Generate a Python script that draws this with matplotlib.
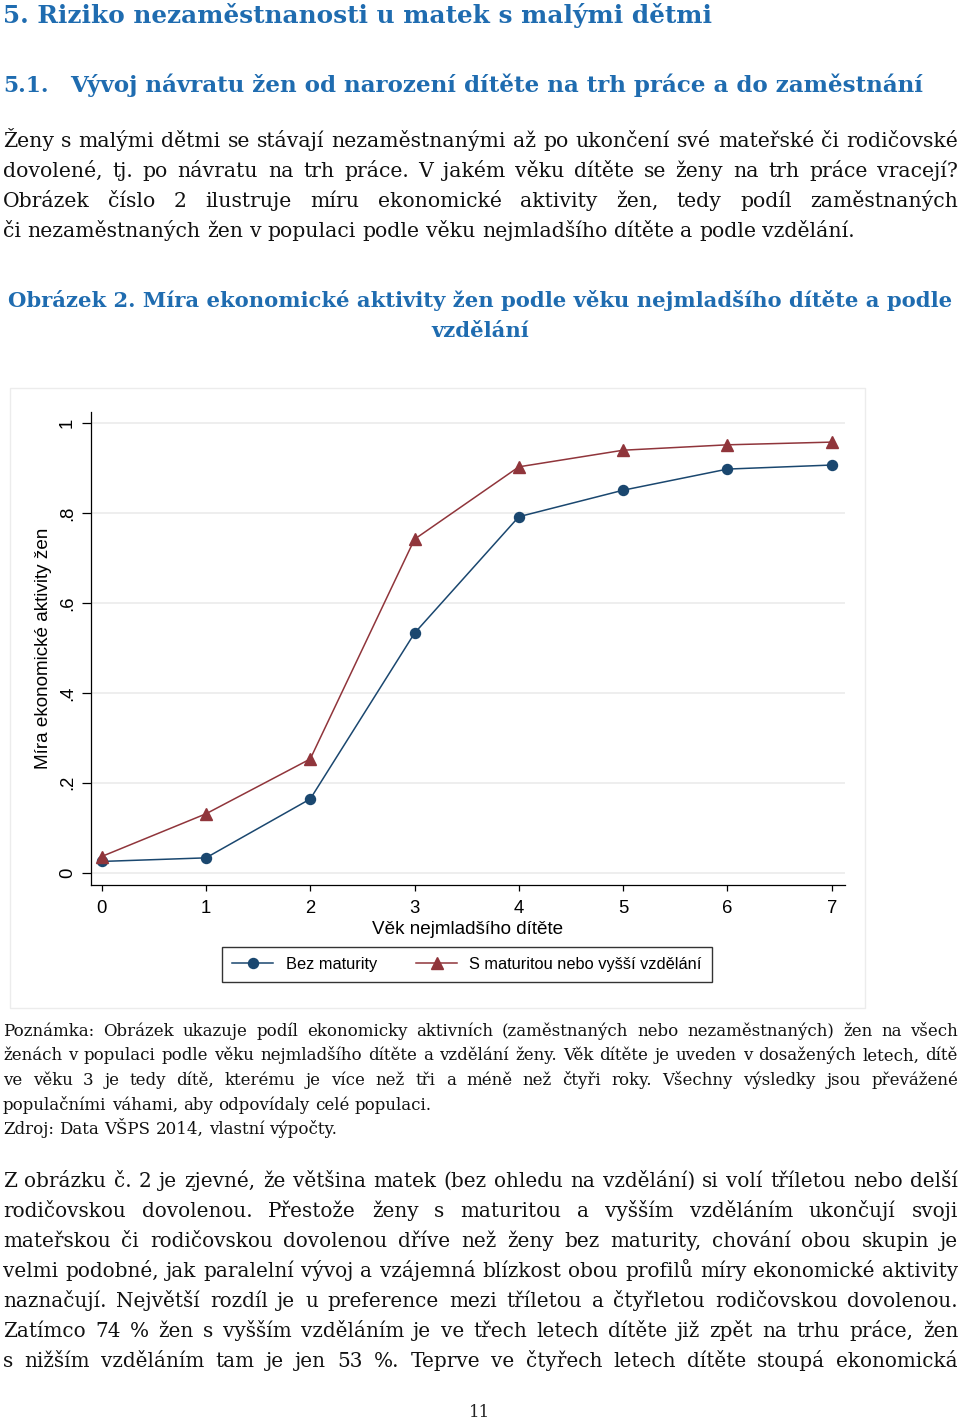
import matplotlib
matplotlib.use("Agg")
import matplotlib.pyplot as plt
from matplotlib.patches import Rectangle

W, H = 960, 1421
SERIF = "DejaVu Serif"
SANS = "Liberation Sans"
BLUE_HEAD = "#1f6cb0"
NAVY = "#1a476f"
MAROON = "#90353b"

# chart data
ages = [0, 1, 2, 3, 4, 5, 6, 7]
bez_maturity = [0.025, 0.033, 0.164, 0.533, 0.792, 0.851, 0.898, 0.907]
s_maturitou = [0.036, 0.131, 0.253, 0.742, 0.903, 0.940, 0.952, 0.958]
y_ticks = [0, 0.2, 0.4, 0.6, 0.8, 1.0]
y_ticklabels = ["0", ".2", ".4", ".6", ".8", "1"]
series_labels = ["Bez maturity", "S maturitou nebo vyšší vzdělání"]

heading1 = "5. Riziko nezaměstnanosti u matek s malými dětmi"
heading2_num = "5.1."
heading2 = "Vývoj návratu žen od narození dítěte na trh práce a do zaměstnání"

para1 = [
    "Ženy s malými dětmi se stávají nezaměstnanými až po ukončení své mateřské či rodičovské",
    "dovolené, tj. po návratu na trh práce. V jakém věku dítěte se ženy na trh práce vracejí?",
    "Obrázek číslo 2 ilustruje míru ekonomické aktivity žen, tedy podíl zaměstnaných",
    "či nezaměstnaných žen v populaci podle věku nejmladšího dítěte a podle vzdělání.",
]
caption = [
    "Obrázek 2. Míra ekonomické aktivity žen podle věku nejmladšího dítěte a podle",
    "vzdělání",
]
note = [
    "Poznámka: Obrázek ukazuje podíl ekonomicky aktivních (zaměstnaných nebo nezaměstnaných) žen na všech",
    "ženách v populaci podle věku nejmladšího dítěte a vzdělání ženy. Věk dítěte je uveden v dosažených letech, dítě",
    "ve věku 3 je tedy dítě, kterému je více než tři a méně než čtyři roky. Všechny výsledky jsou převážené",
    "populačními váhami, aby odpovídaly celé populaci.",
    "Zdroj: Data VŠPS 2014, vlastní výpočty.",
]
para2 = [
    "Z obrázku č. 2 je zjevné, že většina matek (bez ohledu na vzdělání) si volí tříletou nebo delší",
    "rodičovskou dovolenou. Přestože ženy s maturitou a vyšším vzděláním ukončují svoji",
    "mateřskou či rodičovskou dovolenou dříve než ženy bez maturity, chování obou skupin je",
    "velmi podobné, jak paralelní vývoj a vzájemná blízkost obou profilů míry ekonomické aktivity",
    "naznačují. Největší rozdíl je u preference mezi tříletou a čtyřletou rodičovskou dovolenou.",
    "Zatímco 74 % žen s vyšším vzděláním je ve třech letech dítěte již zpět na trhu práce, žen",
    "s nižším vzděláním tam je jen 53 %. Teprve ve čtyřech letech dítěte stoupá ekonomická",
]

fig = plt.figure(figsize=(W / 100, H / 100), dpi=100)
renderer = fig.canvas.get_renderer()

bg = fig.add_axes([0, 0, 1, 1])
bg.set_xlim(0, W)
bg.set_ylim(H, 0)
bg.axis("off")


def width_of(t):
    return t.get_window_extent(renderer).width


def measure(s, size, **kw):
    t = bg.text(0, 0, s, fontsize=size, **kw)
    w = width_of(t)
    t.remove()
    return w


def fit_size(lines, x0, x1, size, **kw):
    for s in lines:
        w = measure(s, size, **kw)
        if w > (x1 - x0) * 0.99:
            size = size * (x1 - x0) * 0.99 / w
    return size


def put_line(s, y, x0, x1, size, justify=True, color="#111111", **kw):
    words = s.split()
    ts = [bg.text(0, y, w, fontsize=size, va="baseline", ha="left",
                  color=color, **kw) for w in words]
    ws = [width_of(t) for t in ts]
    if justify and len(words) > 1:
        gap = (x1 - x0 - sum(ws)) / (len(words) - 1)
    else:
        gap = measure("x x", size, **kw) - measure("xx", size, **kw)
    x = x0
    for t, w in zip(ts, ws):
        t.set_x(x)
        x += w + gap


def paragraph(lines, baselines, size, last_left, x0=3, x1=958, **kw):
    size = fit_size([l for i, l in enumerate(lines) if i not in last_left],
                    x0, x1, size, **kw)
    for i, (s, y) in enumerate(zip(lines, baselines)):
        put_line(s, y, x0, x1, size, justify=i not in last_left, **kw)


def fitted(s, x0, x1, base=17.5, **kw):
    return base * (x1 - x0) / measure(s, base, **kw)


# headings
h1 = fitted(heading1, 3, 710, family=SERIF, weight="bold")
h2 = fitted(heading2, 70, 925, family=SERIF, weight="bold")
bg.text(3, 23, heading1, fontsize=h1, family=SERIF, weight="bold",
        color=BLUE_HEAD, va="baseline")
bg.text(3, 92, heading2_num, fontsize=h2 * 0.95, family=SERIF, weight="bold",
        color=BLUE_HEAD, va="baseline")
bg.text(70, 92, heading2, fontsize=h2, family=SERIF, weight="bold",
        color=BLUE_HEAD, va="baseline")

# paragraph 1
paragraph(para1, [147, 177, 207, 237], 15.5, last_left={3}, family=SERIF)

# caption
cs = fitted(caption[0], 8, 952, base=15, family=SERIF, weight="bold")
bg.text(8, 307, caption[0], fontsize=cs, family=SERIF, weight="bold",
        color=BLUE_HEAD, va="baseline")
bg.text(480, 337, caption[1], fontsize=cs, family=SERIF, weight="bold",
        color=BLUE_HEAD, va="baseline", ha="center")

# chart frame
bg.add_patch(Rectangle((10, 388), 855, 620, fill=False, edgecolor="#ececec", lw=1))

# chart
def frac(x0, y0, x1, y1):
    return [x0 / W, 1 - y1 / H, (x1 - x0) / W, (y1 - y0) / H]

ax = fig.add_axes(frac(90.7, 412, 845, 885))
ax.set_facecolor("white")
ax.plot(ages, bez_maturity, color=NAVY, lw=1.1, marker="o", ms=7.2,
        label=series_labels[0])
ax.plot(ages, s_maturitou, color=MAROON, lw=1.1, marker="^", ms=8.2,
        label=series_labels[1])
ax.set_xlim(-0.105, 7.127)
ax.set_ylim(-0.0274, 1.025)
ax.set_yticks(y_ticks)
ax.set_yticklabels(y_ticklabels)
ax.set_xticks(ages)
ax.grid(axis="y", color="#eaeaea", lw=1.1)
ax.set_axisbelow(True)
for sp in ["top", "right"]:
    ax.spines[sp].set_visible(False)
for sp in ["left", "bottom"]:
    ax.spines[sp].set_color("black")
    ax.spines[sp].set_linewidth(0.9)
ax.tick_params(axis="y", length=6.5, width=0.9, pad=4, labelsize=13.3,
               labelrotation=90)
ax.tick_params(axis="x", length=4.5, width=0.9, pad=6, labelsize=13.3)
for lab in ax.get_yticklabels() + ax.get_xticklabels():
    lab.set_family(SANS)
for lab in ax.get_yticklabels():
    lab.set_va("center")
ax.set_xlabel("Věk nejmladšího dítěte", family=SANS, fontsize=13.6, labelpad=3)
ax.set_ylabel("Míra ekonomické aktivity žen", family=SANS, fontsize=13.6,
              labelpad=5)

leg = fig.legend(loc="center", bbox_to_anchor=(467 / W, 1 - 964.5 / H),
                 ncol=2, prop={"family": SANS, "size": 11.8},
                 handlelength=2.5, handletextpad=0.75, columnspacing=2.4,
                 borderpad=0.6, fancybox=False, framealpha=1)
leg.get_frame().set_edgecolor("#333333")
leg.get_frame().set_linewidth(1.0)

# note
paragraph(note, [1036, 1060.5, 1085, 1110, 1134], 14, last_left={3, 4},
          family=SERIF)

# paragraph 2
paragraph(para2, [1187, 1217, 1247, 1277, 1307, 1337, 1367], 15.5,
          last_left=set(), family=SERIF)

bg.text(480, 1417, "11", fontsize=12, family=SERIF, ha="center",
        va="baseline", color="#222222")

fig.savefig("out.png", dpi=100)
